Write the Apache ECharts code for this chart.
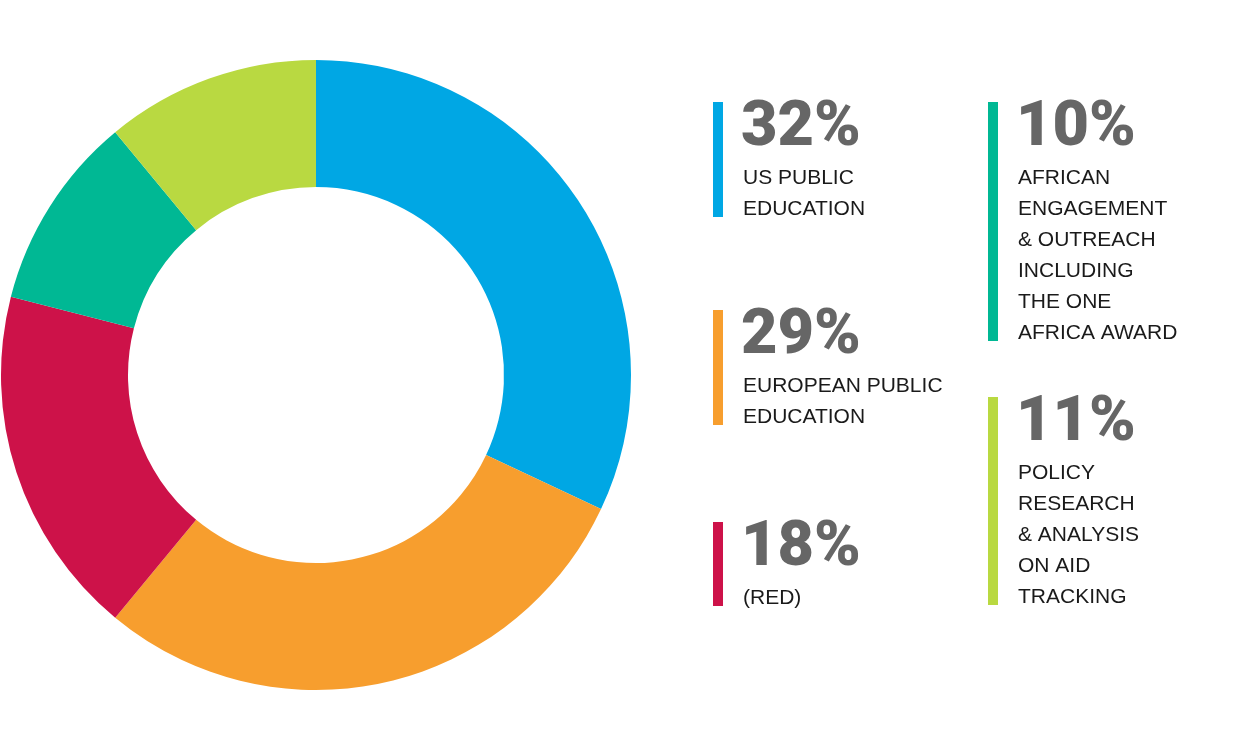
<!DOCTYPE html>
<html>
<head>
<meta charset="UTF-8">
<title>Spending breakdown</title>
<script src="https://cdn.jsdelivr.net/npm/echarts@6/dist/echarts.min.js"></script>
<style>
  html, body { margin: 0; padding: 0; background: #fff; }
  #chart { width: 1250px; height: 750px; }
</style>
</head>
<body>
<div id="chart"></div>
<script>
// data
var categories = [
  'US Public Education',
  'European Public Education',
  '(RED)',
  'African Engagement & Outreach including the ONE Africa Award',
  'Policy Research & Analysis on Aid Tracking'
];
var shares = [32, 29, 18, 10, 11];
var colors = ['#00a7e4', '#f79e2e', '#cd1249', '#00b894', '#b9d941'];
var captions = [
  ['US PUBLIC', 'EDUCATION'],
  ['EUROPEAN PUBLIC', 'EDUCATION'],
  ['(RED)'],
  ['AFRICAN', 'ENGAGEMENT', '& OUTREACH', 'INCLUDING', 'THE ONE', 'AFRICA AWARD'],
  ['POLICY', 'RESEARCH', '& ANALYSIS', 'ON AID', 'TRACKING']
];

// where each legend block sits (top-left of its colour bar)
var legendPos = [[713, 102], [713, 310], [713, 522], [988, 102], [988, 397]];
var lineGap = 31;

var chart = echarts.init(document.getElementById('chart'));

var graphics = [];
categories.forEach(function (name, i) {
  var x = legendPos[i][0], y = legendPos[i][1];
  var lines = captions[i];
  var barH = 75 + lineGap * (lines.length - 1) + 9;
  graphics.push({
    type: 'rect',
    shape: { x: x, y: y, width: 10, height: barH },
    style: { fill: colors[i] },
    silent: true
  });
  graphics.push({
    type: 'text',
    x: x + 28, y: y + 27,
    style: {
      text: shares[i] + '%',
      fill: '#666666',
      fontFamily: 'Roboto',
      fontWeight: 900,
      fontSize: 63,
      verticalAlign: 'middle',
      align: 'left'
    },
    silent: true
  });
  lines.forEach(function (t, j) {
    graphics.push({
      type: 'text',
      x: x + 30, y: y + 76 + lineGap * j,
      style: {
        text: t,
        fill: '#1a1a1a',
        fontFamily: 'Liberation Sans',
        fontSize: 21,
        verticalAlign: 'middle',
        align: 'left'
      },
      silent: true
    });
  });
});

var option = {
  backgroundColor: '#ffffff',
  animation: false,
  color: colors,
  series: [{
    type: 'pie',
    center: [316, 375],
    radius: [188, 315],
    startAngle: 90,
    clockwise: true,
    label: { show: false },
    labelLine: { show: false },
    itemStyle: { borderWidth: 0 },
    emphasis: { disabled: true },
    data: categories.map(function (c, i) {
      return { name: c, value: shares[i] };
    })
  }],
  graphic: graphics
};

chart.setOption(option);
</script>
</body>
</html>
